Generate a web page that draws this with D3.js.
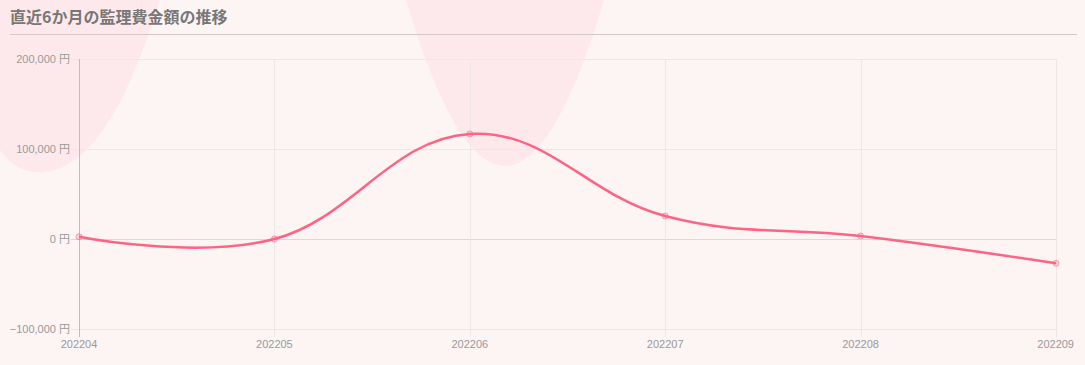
<!DOCTYPE html>
<html>
<head>
<meta charset="utf-8">
<script src="https://cdn.jsdelivr.net/npm/d3@7"></script>
<style>
  html, body { margin: 0; padding: 0; background: #fdf4f4; }
  svg { display: block; font-family: "Noto Sans CJK JP", "Noto Sans", sans-serif; }
  .tick-label { font-family: "Liberation Sans", Arial, "Noto Sans CJK JP", sans-serif; }
</style>
</head>
<body>
<div id="chart"></div>
<script>
// ─── data ────────────────────────────────────────────────────────────────────
const months = ["202204", "202205", "202206", "202207", "202208", "202209"];
const amounts = [2500, 0, 116700, 25500, 3300, -27000];
const yTicks = [-100000, 0, 100000, 200000];
const title = "直近6か月の監理費金額の推移";

// ─── layout / colours ────────────────────────────────────────────────────────
const W = 1085, H = 365;
const PLOT = { left: 79, right: 1056, top: 59, bottom: 329 };
const LINE_COLOR = "rgb(255,99,132)";
const BLOB_COLOR = "#fde9eb";
const GRID_COLOR = "#f0e6e7";
const TEXT_COLOR = "#999";

const svg = d3.select("#chart").append("svg")
    .attr("width", W)
    .attr("height", H);

svg.append("rect").attr("width", W).attr("height", H).attr("fill", "#fdf4f4");

// decorative background blobs
svg.append("path")
    .attr("d", "M0,0 L0,150 C12,168 28,174 45,172 C95,166 130,95 160,0 Z")
    .attr("fill", BLOB_COLOR);
svg.append("path")
    .attr("d", "M406,0 Q505,332 604,0 Z")
    .attr("fill", BLOB_COLOR);

// title
svg.append("text")
    .attr("x", 10).attr("y", 23)
    .attr("font-size", 16).attr("font-weight", "bold")
    .attr("fill", "#777")
    .text(title);
svg.append("line")
    .attr("x1", 10).attr("x2", 1077)
    .attr("y1", 34.5).attr("y2", 34.5)
    .attr("stroke", "#d2c8c9").attr("stroke-width", 1);

// scales
const x = d3.scalePoint().domain(months).range([PLOT.left, PLOT.right]);
const y = d3.scaleLinear().domain([-100000, 200000]).range([PLOT.bottom, PLOT.top]);

// grid
const grid = svg.append("g");
grid.selectAll(".hgrid").data(yTicks).join("line")
    .attr("x1", PLOT.left - 8).attr("x2", PLOT.right)
    .attr("y1", d => Math.round(y(d)) + 0.5).attr("y2", d => Math.round(y(d)) + 0.5)
    .attr("stroke", d => d === 0 ? "#e2d6d7" : GRID_COLOR);
grid.selectAll(".vgrid").data(months).join("line")
    .attr("x1", d => Math.round(x(d)) + 0.5).attr("x2", d => Math.round(x(d)) + 0.5)
    .attr("y1", PLOT.top).attr("y2", PLOT.bottom + 8)
    .attr("stroke", (d, i) => i === 0 ? "#c4babb" : GRID_COLOR);

// y labels
svg.append("g").selectAll("text").data(yTicks).join("text")
    .attr("class", "tick-label")
    .attr("x", 70).attr("y", d => y(d) + 4)
    .attr("text-anchor", "end")
    .attr("font-size", 11).attr("fill", TEXT_COLOR)
    .text(d => d3.format(",")(d) + " 円");

// x labels
svg.append("g").selectAll("text").data(months).join("text")
    .attr("class", "tick-label")
    .attr("x", (d, i) => i === months.length - 1 ? x(d) + 18 : x(d))
    .attr("y", 348)
    .attr("text-anchor", (d, i) => i === months.length - 1 ? "end" : "middle")
    .attr("font-size", 11).attr("fill", TEXT_COLOR)
    .text(d => d);

// line
const pts = months.map((m, i) => [x(m), y(amounts[i])]);
svg.append("path")
    .datum(pts)
    .attr("d", d3.line().curve(d3.curveCardinal.tension(-0.2)))
    .attr("fill", "none")
    .attr("stroke", LINE_COLOR)
    .attr("stroke-width", 2.5);

svg.append("g").selectAll("circle").data(pts).join("circle")
    .attr("cx", d => d[0]).attr("cy", d => d[1]).attr("r", 3)
    .attr("fill", "rgba(255,99,132,0.2)")
    .attr("stroke", "rgba(255,99,132,0.6)")
    .attr("stroke-width", 1);
</script>
</body>
</html>
